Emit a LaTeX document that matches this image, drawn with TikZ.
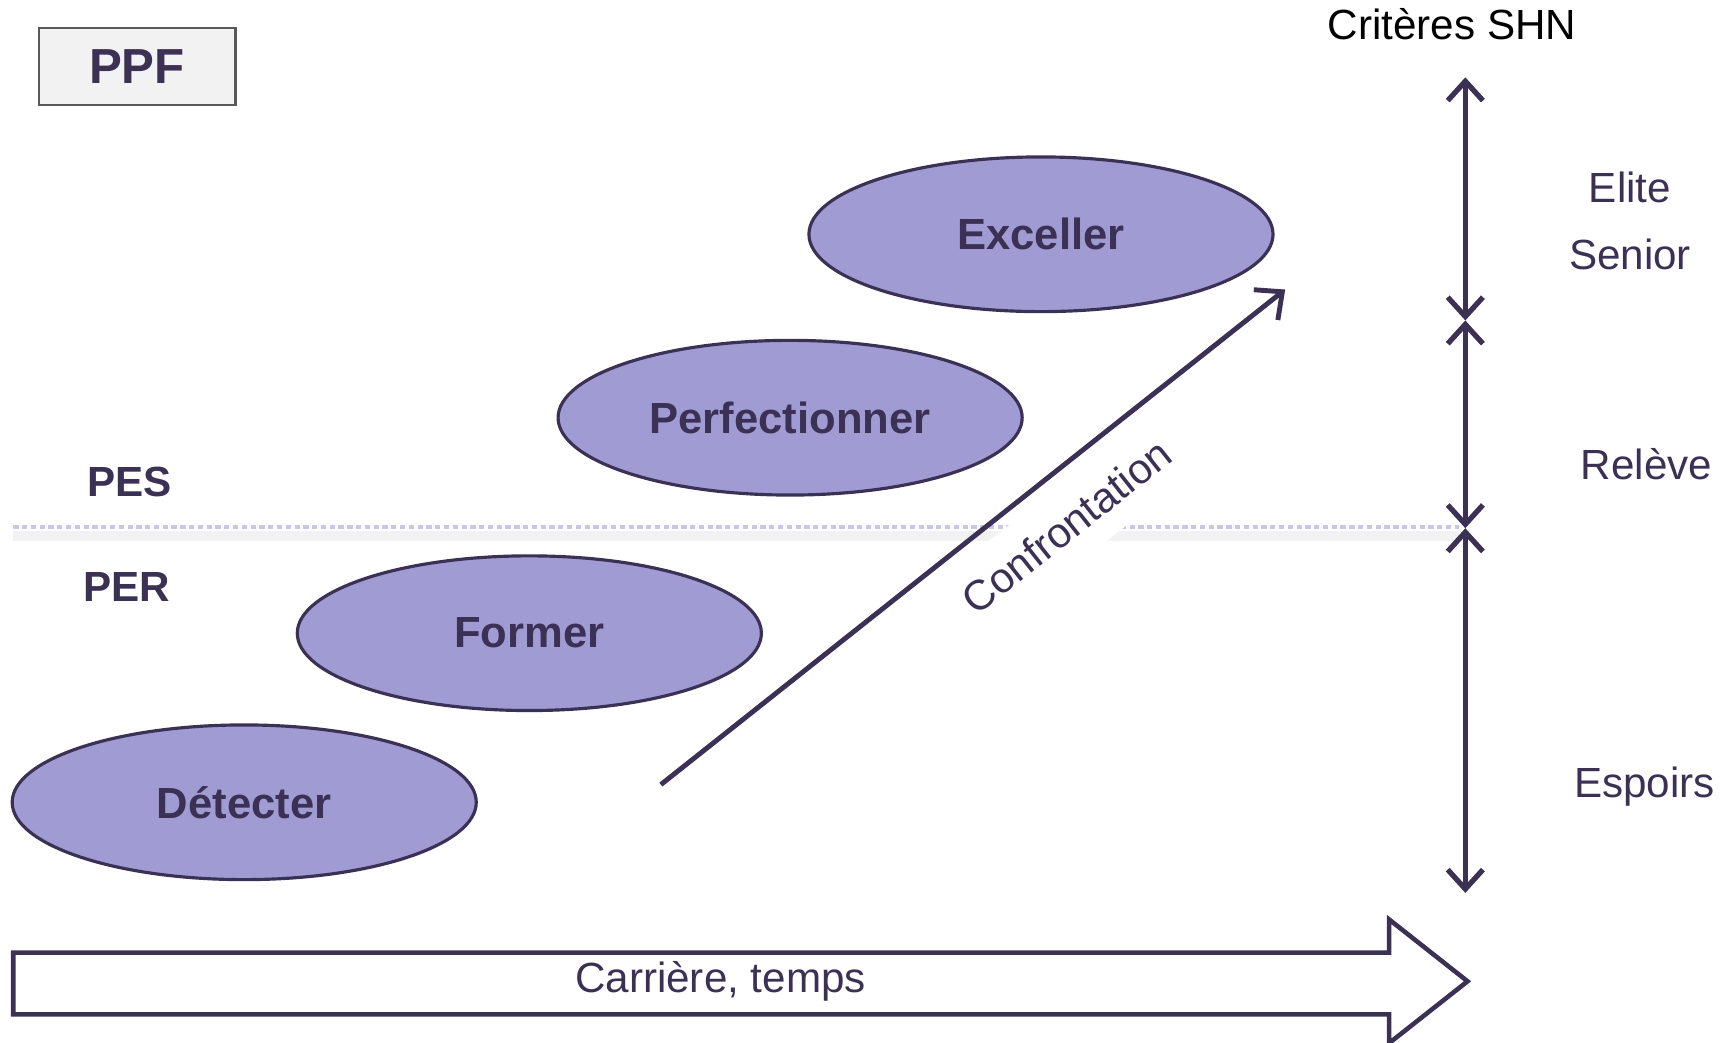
\documentclass[tikz,border=0pt]{standalone}
\usepackage{fontspec}
\setmainfont{Liberation Sans}
\usetikzlibrary{shapes.geometric, arrows.meta, positioning}
\definecolor{ink}{HTML}{3B3155}
\definecolor{lilac}{HTML}{A09BD3}
\definecolor{dotline}{HTML}{C9C6EC}

\begin{document}
\begin{tikzpicture}[x=0.01105cm, y=-0.01105cm,
    every node/.style={font=\fontsize{12}{14}\selectfont, text=ink},
    phase/.style={ellipse, draw=ink, line width=0.9pt, fill=lilac, minimum width=132pt, minimum height=44pt, font=\fontsize{12.4}{14}\selectfont\bfseries},
    level/.style={font=\fontsize{12}{14}\selectfont\bfseries},
    barb/.tip={Straight Barb[length=5.5pt, width=10pt]},
    axis/.style={ink, line width=1.5pt, barb-barb}]
        \useasboundingbox (0, 0) rectangle (1561, 943);
        \node[draw=black!65, fill=black!5, line width=0.6pt, minimum width=56pt, minimum height=22pt, font=\fontsize{14}{16}\selectfont\bfseries] (ppf) at (124, 60) {PPF};
        \node[text=black] (crit) at (1314, 22) {Critères SHN};
        \node (elite) at (1475, 170) {Elite};
        \node (senior) at (1475, 230) {Senior};
        \node (releve) at (1490, 420) {Relève};
        \node (espoirs) at (1488, 712) {Espoirs};
        \node[level] (pes) at (117, 436) {PES};
        \node[level] (per) at (115, 531) {PER};
        \coordinate (sepl) at (12, 477);
        \coordinate (sepr) at (1320, 477);
        \draw[black!5, line width=3pt] ([yshift=-2.5pt]sepl) -- ([yshift=-2.5pt]sepr);
        \draw[dotline, line width=1.2pt, dash pattern=on 1.5pt off 1pt] (sepl) -- (sepr);
        \node[phase] (exceller) at (942, 212) {Exceller};
        \node[phase] (perfect) at (715, 378) {Perfectionner};
        \node[phase] (former) at (479, 573) {Former};
        \node[phase] (detecter) at (221, 726) {Détecter};
        \coordinate (cstart) at (598, 710);
        \coordinate (cend) at (1163, 262);
        \draw[ink, line width=1.4pt, -{Straight Barb[length=6pt, width=11pt]}] (cstart) -- (cend) node[sloped, pos=0.6, below=3pt, fill=white, inner sep=6pt] {Confrontation};
        \coordinate (top) at (1326, 70);
        \coordinate (elitelow) at (1326, 290);
        \coordinate (relevelow) at (1326, 478);
        \coordinate (bottom) at (1326, 808);
        \draw[axis] (top) -- (elitelow);
        \draw[axis] (elitelow) -- (relevelow);
        \draw[axis] (relevelow) -- (bottom);
        \draw[ink, line width=1.3pt, fill=white] (12, 862) -- (1257, 862) -- (1257, 832) -- (1328, 888) -- (1257, 944) -- (1257, 918) -- (12, 918) -- cycle;
        \node (career) at (652, 888) {Carrière, temps};
\end{tikzpicture}
\end{document}
